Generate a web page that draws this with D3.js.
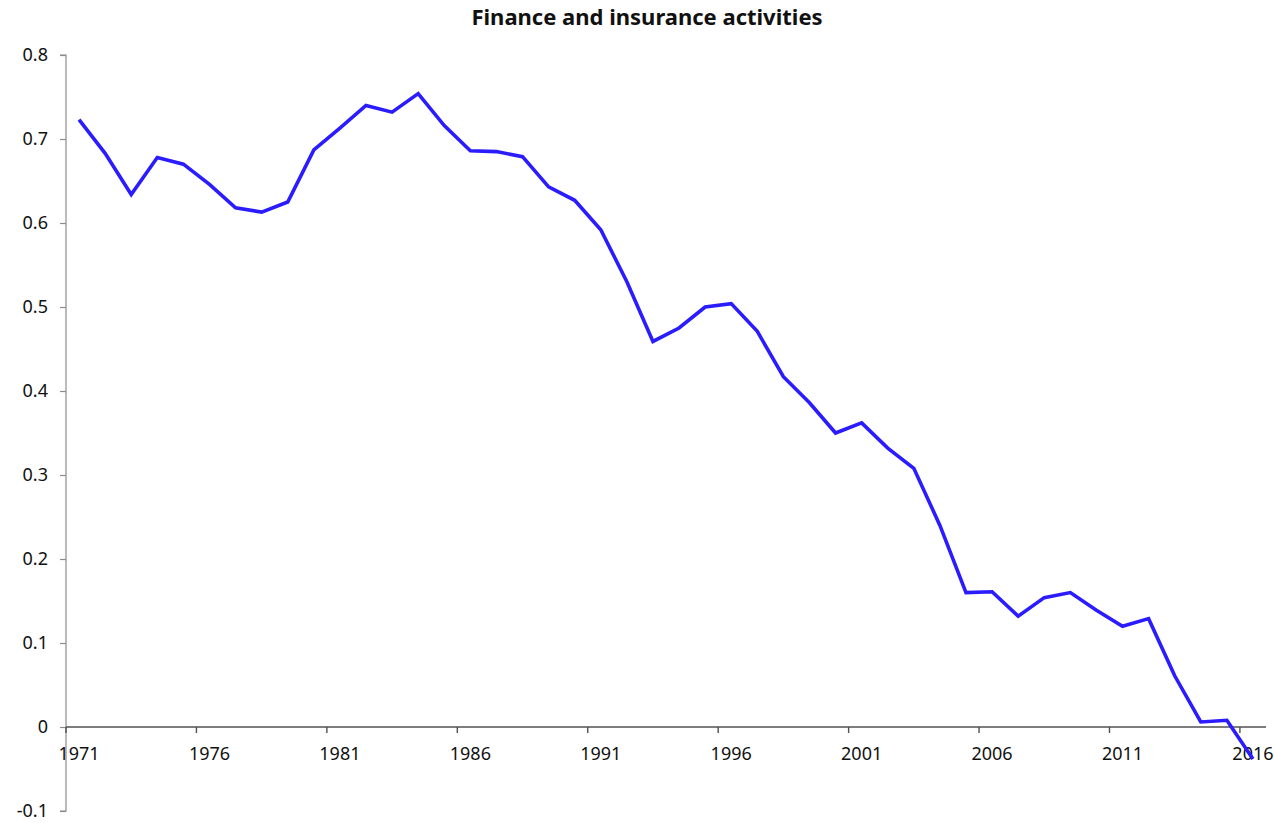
<!DOCTYPE html>
<html>
<head>
<meta charset="utf-8">
<script src="https://cdn.jsdelivr.net/npm/d3@7"></script>
<style>
  html, body { margin: 0; padding: 0; background: #fff; }
  svg text { font-family: "Noto Sans", "Open Sans", sans-serif; fill: #111; }
</style>
</head>
<body>
<svg id="chart" width="1274" height="823"></svg>
<script>
// Finance and insurance activities, yearly series 1971-2016
const years = d3.range(1971, 2017).map(String);
const values = [
  0.723, 0.683, 0.634, 0.678, 0.670, 0.646, 0.618, 0.613, 0.625, 0.687,
  0.713, 0.740, 0.732, 0.754, 0.716, 0.686, 0.685, 0.679, 0.643, 0.627,
  0.592, 0.530, 0.459, 0.475, 0.500, 0.504, 0.471, 0.417, 0.386, 0.350,
  0.362, 0.332, 0.308, 0.240, 0.160, 0.161, 0.132, 0.154, 0.160, 0.139,
  0.120, 0.129, 0.061, 0.006, 0.008, -0.038
];
const yTicks = [-0.1, 0, 0.1, 0.2, 0.3, 0.4, 0.5, 0.6, 0.7, 0.8];
const xLabelYears = ["1971", "1976", "1981", "1986", "1991", "1996", "2001", "2006", "2011", "2016"];
const title = "Finance and insurance activities";

const svg = d3.select("#chart");
const plotLeft = 66, plotRight = 1266, plotTop = 55, plotBottom = 811;

const x = d3.scaleBand().domain(years).range([plotLeft, plotRight]).padding(0);
const y = d3.scaleLinear().domain([-0.1, 0.8]).range([plotBottom, plotTop]);

// Title
svg.append("text")
  .attr("x", 647).attr("y", 25)
  .attr("text-anchor", "middle")
  .style("font-weight", "bold")
  .style("font-size", "22px")
  .text(title);

// Y axis (plain hyphen for negatives)
const yAxis = svg.append("g")
  .attr("transform", `translate(${plotLeft},0)`)
  .call(d3.axisLeft(y).tickValues(yTicks).tickSize(6).tickPadding(12)
    .tickFormat(d => String(+d.toFixed(1))));
yAxis.select(".domain").attr("stroke", "#8c8c8c").attr("stroke-width", 1.2)
  .attr("d", `M-6,${y(0.8)}H0V${y(-0.1)}H-6`);
yAxis.selectAll(".tick line").attr("stroke", "#8c8c8c").attr("stroke-width", 1.2);
yAxis.selectAll(".tick text").style("font-size", "18px").attr("fill", "#111");

// X axis along zero, ticks at category boundaries
const xAxisG = svg.append("g").attr("transform", `translate(0,${y(0)})`);
xAxisG.append("line")
  .attr("x1", plotLeft).attr("x2", plotRight)
  .attr("stroke", "#505050").attr("stroke-width", 1.6);
xAxisG.selectAll("line.tick")
  .data(xLabelYears)
  .join("line")
  .attr("class", "tick")
  .attr("x1", d => x(d)).attr("x2", d => x(d))
  .attr("y1", 0).attr("y2", 6)
  .attr("stroke", "#505050").attr("stroke-width", 1.4);
xAxisG.selectAll("text")
  .data(xLabelYears)
  .join("text")
  .attr("x", d => x(d) + x.bandwidth() / 2)
  .attr("y", 33)
  .attr("text-anchor", "middle")
  .style("font-size", "18px")
  .text(d => d);

// Series line
const line = d3.line()
  .x((d, i) => x(years[i]) + x.bandwidth() / 2)
  .y(d => y(d));
svg.append("path")
  .datum(values)
  .attr("d", line)
  .attr("fill", "none")
  .attr("stroke", "#2a1cff")
  .attr("stroke-width", 3.6)
  .attr("stroke-linejoin", "miter");
</script>
</body>
</html>
